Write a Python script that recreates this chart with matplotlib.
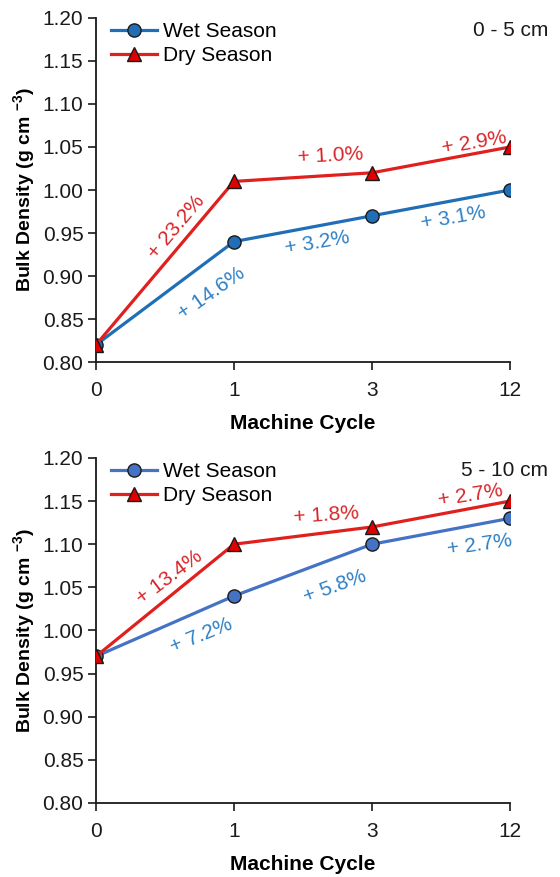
import matplotlib.pyplot as plt

plt.rcParams['font.family'] = ['Liberation Sans', 'DejaVu Sans']

cycles = ['0', '1', '3', '12']

# bulk density, 0 - 5 cm
wet_top = [0.82, 0.94, 0.97, 1.00]
dry_top = [0.82, 1.01, 1.02, 1.05]
# bulk density, 5 - 10 cm
wet_bot = [0.97, 1.04, 1.10, 1.13]
dry_bot = [0.97, 1.10, 1.12, 1.15]

# percent change between cycles
wet_top_pct = ['+ 14.6%', '+ 3.2%', '+ 3.1%']
dry_top_pct = ['+ 23.2%', '+ 1.0%', '+ 2.9%']
wet_bot_pct = ['+ 7.2%', '+ 5.8%', '+ 2.7%']
dry_bot_pct = ['+ 13.4%', '+ 1.8%', '+ 2.7%']

yticks = [0.80, 0.85, 0.90, 0.95, 1.00, 1.05, 1.10, 1.15, 1.20]

red = '#E0201E'
red_txt = '#D8262A'
blue_txt = '#2E80C6'
fs = 15

fig = plt.figure(figsize=(5.6, 8.77), dpi=100)
ax1 = fig.add_axes([0.1714, 0.5872, 0.7393, 0.3923])
ax2 = fig.add_axes([0.1714, 0.0844, 0.7393, 0.3934])


def draw_panel(ax, wet, dry, wet_color, wet_pct, dry_pct, wet_pos, dry_pos, depth):
    x = range(len(cycles))
    ax.plot(x, wet, color=wet_color, lw=2.3, marker='o', ms=9.5,
            mfc=wet_color, mec='#1a1a1a', mew=1.0, label='Wet Season', zorder=3)
    ax.plot(x, dry, color=red, lw=2.3, marker='^', ms=10.5,
            mfc='#E00000', mec='#1a1a1a', mew=1.0, label='Dry Season', zorder=4)
    for txt, (px, py, rot) in zip(wet_pct, wet_pos):
        ax.text(px, py, txt, color=blue_txt, fontsize=fs, rotation=rot,
                ha='center', va='center', rotation_mode='anchor')
    for txt, (px, py, rot) in zip(dry_pct, dry_pos):
        ax.text(px, py, txt, color=red_txt, fontsize=fs, rotation=rot,
                ha='center', va='center', rotation_mode='anchor')
    ax.set_xlim(0, 3)
    ax.set_ylim(0.80, 1.20)
    ax.set_xticks(list(x))
    ax.set_xticklabels(cycles)
    ax.set_yticks(yticks)
    ax.set_yticklabels(['{:.2f}'.format(v) for v in yticks])
    ax.tick_params(direction='out', length=6, width=1.2, labelsize=fs,
                   colors='#1a1a1a', pad=3)
    ax.tick_params(axis='x', pad=8)
    for s in ['top', 'right']:
        ax.spines[s].set_visible(False)
    for s in ['left', 'bottom']:
        ax.spines[s].set_linewidth(1.3)
        ax.spines[s].set_color('#1a1a1a')
    ax.set_xlabel('Machine Cycle', fontsize=fs, fontweight='bold', labelpad=10)
    ax.set_ylabel('Bulk Density (g cm $^{\\mathregular{-3}}$)', fontsize=fs - 1,
                  fontweight='bold', labelpad=3)
    ax.legend(loc='upper left', bbox_to_anchor=(0.0, 1.03), frameon=False,
              fontsize=fs, handlelength=2.25, handletextpad=0.25,
              labelspacing=0.25, borderpad=0.2, borderaxespad=0.5)
    ax.text(1.092, 0.965, depth, transform=ax.transAxes, ha='right',
            va='center', fontsize=fs, color='#1a1a1a')


draw_panel(ax1, wet_top, dry_top, '#1F6EB6', wet_top_pct, dry_top_pct,
           [(0.84, 0.880, 35), (1.60, 0.938, 10), (2.59, 0.967, 10)],
           [(0.58, 0.957, 50), (1.70, 1.040, 3), (2.74, 1.055, 10)],
           '0 - 5 cm')
draw_panel(ax2, wet_bot, dry_bot, '#4472C4', wet_bot_pct, dry_bot_pct,
           [(0.76, 0.994, 22), (1.73, 1.051, 20), (2.78, 1.099, 8)],
           [(0.53, 1.062, 37), (1.67, 1.134, 4), (2.71, 1.157, 9)],
           '5 - 10 cm')

fig.savefig('out.png', dpi=100)
